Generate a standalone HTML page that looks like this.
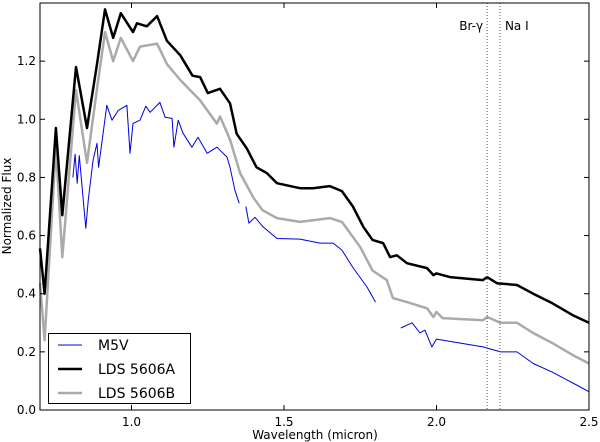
<!DOCTYPE html>
<html><head><meta charset="utf-8"><style>
body{margin:0;background:#fff;}
svg{display:block;font-family:"DejaVu Sans","Liberation Sans",sans-serif;}
</style></head><body>
<svg id="chart" width="600" height="442" viewBox="0 0 600 442" xmlns="http://www.w3.org/2000/svg"></svg>
<script>
const xTicks=[1.0,1.5,2.0,2.5];
const xTickLabels=["1.0","1.5","2.0","2.5"];
const yTicks=[0,0.2,0.4,0.6,0.8,1.0,1.2];
const yTickLabels=["0.0","0.2","0.4","0.6","0.8","1.0","1.2"];
const blackX=[0.70,0.715,0.752,0.773,0.818,0.854,0.887,0.913,0.94,0.965,1.005,1.018,1.05,1.084,1.116,1.16,1.2,1.225,1.25,1.29,1.323,1.345,1.378,1.41,1.444,1.477,1.552,1.595,1.65,1.69,1.726,1.76,1.79,1.825,1.848,1.87,1.903,1.969,1.99,2.0,2.044,2.152,2.166,2.198,2.264,2.317,2.38,2.447,2.5];
const blackY=[0.556,0.40,0.97,0.67,1.18,0.97,1.19,1.378,1.28,1.365,1.30,1.33,1.32,1.355,1.27,1.22,1.15,1.145,1.09,1.105,1.055,0.95,0.90,0.835,0.815,0.78,0.763,0.763,0.77,0.753,0.70,0.63,0.585,0.574,0.526,0.532,0.505,0.488,0.464,0.47,0.457,0.447,0.457,0.436,0.43,0.40,0.367,0.326,0.30];
const grayX=[0.70,0.715,0.752,0.773,0.818,0.854,0.887,0.913,0.94,0.965,1.005,1.028,1.084,1.116,1.16,1.225,1.28,1.29,1.323,1.356,1.40,1.43,1.477,1.552,1.595,1.65,1.69,1.75,1.79,1.837,1.857,1.903,1.969,1.99,2.0,2.02,2.152,2.166,2.21,2.264,2.317,2.38,2.447,2.5];
const grayY=[0.436,0.24,0.905,0.526,1.10,0.85,1.105,1.30,1.20,1.28,1.20,1.25,1.26,1.19,1.135,1.065,0.985,1.01,0.93,0.815,0.73,0.687,0.66,0.647,0.653,0.66,0.647,0.56,0.48,0.447,0.385,0.371,0.35,0.32,0.337,0.316,0.309,0.32,0.30,0.30,0.265,0.23,0.189,0.16];
const blue1X=[0.808,0.815,0.822,0.829,0.836,0.85,0.858,0.874,0.887,0.892,0.919,0.936,0.956,0.985,0.995,1.005,1.028,1.047,1.061,1.093,1.11,1.133,1.139,1.153,1.169,1.198,1.218,1.248,1.28,1.313,1.323,1.339,1.353];
const blue1Y=[0.80,0.88,0.78,0.875,0.79,0.625,0.72,0.86,0.917,0.835,1.048,0.997,1.03,1.048,0.883,0.986,0.997,1.045,1.024,1.058,1.007,1.003,0.904,0.997,0.952,0.904,0.938,0.883,0.904,0.87,0.835,0.756,0.711];
const blue2X=[1.375,1.385,1.405,1.431,1.477,1.552,1.618,1.661,1.69,1.726,1.772,1.80];
const blue2Y=[0.70,0.643,0.663,0.63,0.59,0.588,0.574,0.574,0.55,0.49,0.423,0.371];
const blue3X=[1.883,1.92,1.946,1.962,1.985,2.0,2.152,2.21,2.264,2.317,2.38,2.447,2.5];
const blue3Y=[0.282,0.30,0.265,0.275,0.217,0.244,0.217,0.20,0.20,0.16,0.13,0.093,0.063];
const lineX=[2.166,2.208];
const lineLabels=["Br-\u03b3","Na I"];

const L=40,R=589,T=3,B=410,X0=0.7,X1=2.5,Y0=0,Y1=1.4;
const sx=v=>L+(v-X0)/(X1-X0)*(R-L);
const sy=v=>B-(v-Y0)/(Y1-Y0)*(B-T);
const svg=document.getElementById('chart');
const NS='http://www.w3.org/2000/svg';
function mk(tag,attrs,parent){const e=document.createElementNS(NS,tag);for(const k in attrs)e.setAttribute(k,attrs[k]);(parent||svg).appendChild(e);return e;}
function path(xs,ys){return xs.map((x,i)=>(i?'L':'M')+sx(x).toFixed(1)+' '+sy(ys[i]).toFixed(1)).join(' ');}

let p;
p=mk('path',{d:path(grayX,grayY),fill:'none',stroke:'#aaaaaa','stroke-width':2.5,'stroke-linejoin':'round'});


p=mk('path',{d:path(blackX,blackY),fill:'none',stroke:'#000','stroke-width':2.5,'stroke-linejoin':'round'});


[[blue1X,blue1Y],[blue2X,blue2Y],[blue3X,blue3Y]].forEach((s,i)=>{
  const q=mk('path',{d:path(s[0],s[1]),fill:'none',stroke:'#0000dd','stroke-width':1,'stroke-linejoin':'round'});
  
  
});
lineX.forEach((v,i)=>{
  const l=mk('line',{x1:sx(v),x2:sx(v),y1:T,y2:B,stroke:'#555','stroke-width':1,'stroke-dasharray':'1,2'});
  
  
  const t=mk('text',{x:i==0?sx(v)-4:sx(v)+5,y:30,'font-size':12,'text-anchor':i==0?'end':'start'});
  t.textContent=lineLabels[i];
  
  
});
const fr=mk('rect',{x:L,y:T,width:R-L,height:B-T,fill:'none',stroke:'#000','stroke-width':1});


xTicks.forEach((v,i)=>{
  mk('line',{x1:sx(v),x2:sx(v),y1:B,y2:B-5,stroke:'#000'});
  mk('line',{x1:sx(v),x2:sx(v),y1:T,y2:T+5,stroke:'#000'});
  const t=mk('text',{x:sx(v),y:B+16,'font-size':12,'text-anchor':'middle'});
  t.textContent=xTickLabels[i];
  
  
});
yTicks.forEach((v,i)=>{
  mk('line',{x1:L,x2:L+5,y1:sy(v),y2:sy(v),stroke:'#000'});
  mk('line',{x1:R,x2:R-5,y1:sy(v),y2:sy(v),stroke:'#000'});
  const t=mk('text',{x:L-4,y:sy(v)+4,'font-size':12,'text-anchor':'end'});
  t.textContent=yTickLabels[i];
  
  
});
let t=mk('text',{x:315,y:439,'font-size':12,'text-anchor':'middle'});
t.textContent='Wavelength (micron)';


t=mk('text',{x:0,y:0,'font-size':12,'text-anchor':'middle',transform:'translate(11,206) rotate(-90)'});
t.textContent='Normalized Flux';


const lg=mk('g',{});


mk('rect',{x:48.5,y:333.5,width:142,height:70,fill:'#fff',stroke:'#000'},lg);
const legNames=['M5V','LDS 5606A','LDS 5606B'],legCols=['#0000dd','#000','#aaaaaa'],legW=[1,2.5,2.5];
legNames.forEach((n,i)=>{
  const y=345+i*24;
  const g=mk('g',{},lg);
  
  
  mk('line',{x1:58,x2:82,y1:y,y2:y,stroke:legCols[i],'stroke-width':legW[i]},g);
  const tt=mk('text',{x:98,y:y+5,'font-size':14},g);
  tt.textContent=n;
});
</script>
</body></html>
